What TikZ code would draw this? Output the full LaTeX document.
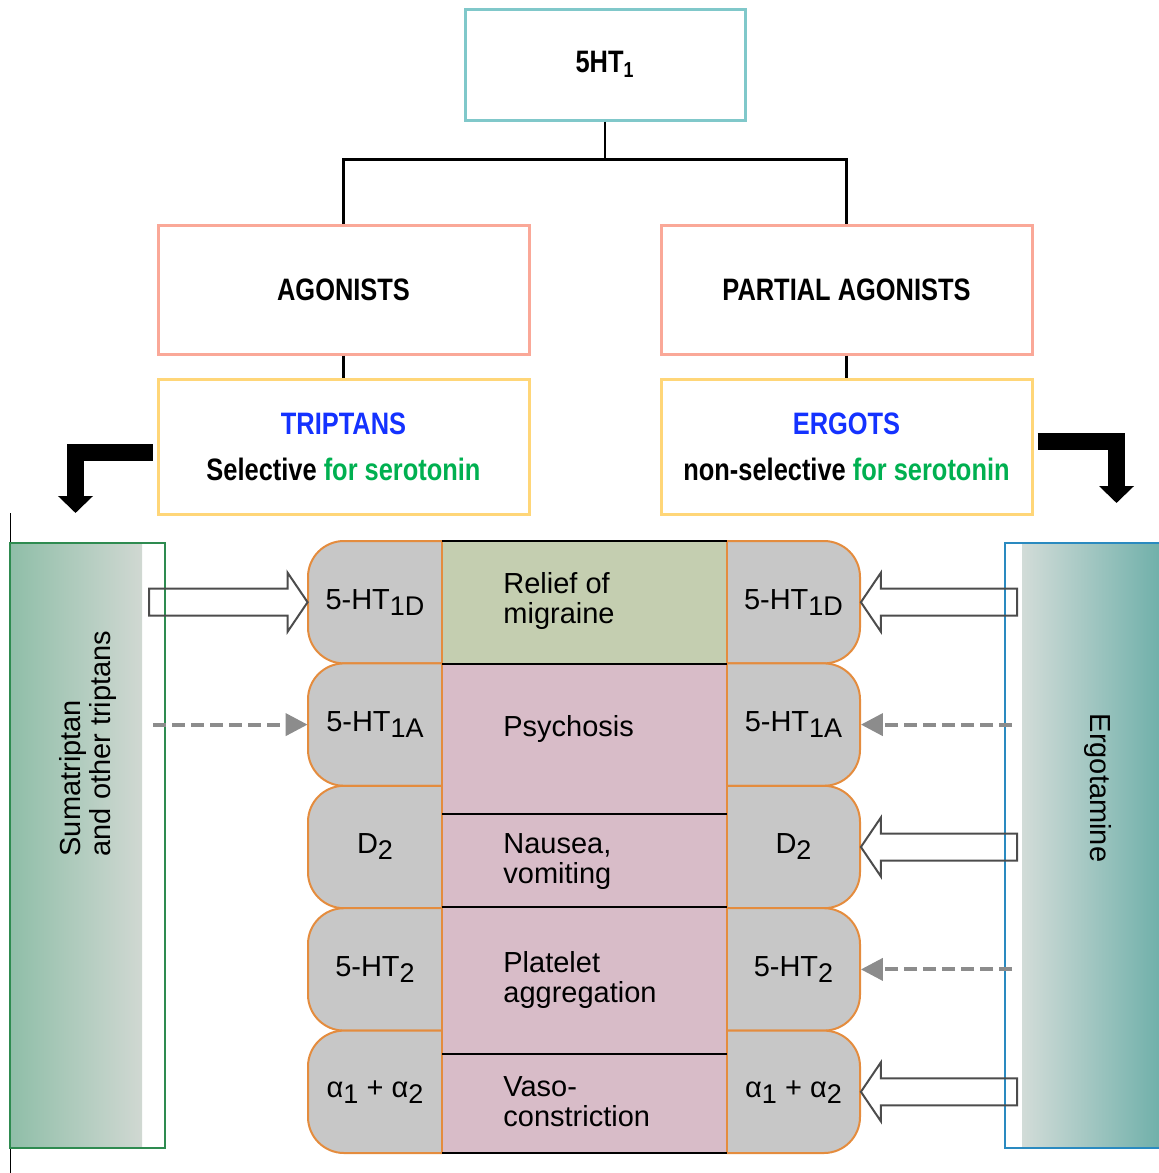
\documentclass[tikz,border=0pt]{standalone}
\usepackage{fontspec}
\setmainfont{Liberation Sans}
\newfontfamily\narrowfont[FakeStretch=0.82]{Liberation Sans}
\usetikzlibrary{calc}
\usetikzlibrary{positioning}
\usetikzlibrary{arrows.meta}

\definecolor{topteal}{RGB}{128,200,202}
\definecolor{salmon}{RGB}{250,168,152}
\definecolor{softyellow}{RGB}{255,214,120}
\definecolor{headblue}{RGB}{20,50,255}
\definecolor{selgreen}{RGB}{0,176,80}
\definecolor{sumagreen}{RGB}{46,139,80}
\definecolor{ergoblue}{RGB}{42,138,192}
\definecolor{sumaleft}{RGB}{143,190,168}
\definecolor{sumaright}{RGB}{208,216,210}
\definecolor{ergoleft}{RGB}{210,220,216}
\definecolor{ergoright}{RGB}{112,176,170}
\definecolor{cellgray}{RGB}{199,199,199}
\definecolor{cellorange}{RGB}{228,140,62}
\definecolor{reliefgreen}{RGB}{196,206,176}
\definecolor{effectpink}{RGB}{216,188,200}
\definecolor{arrowgray}{RGB}{140,140,140}

\newcommand\rsub[1]{\raisebox{-3pt}{\fontsize{13.5}{13.5}\selectfont #1}}
\newcommand\hollowarrow[3]{%
\draw[hollow] let \p1=#1, \p2=#2 in
 (\x1,{\y1+6.75pt}) -- ({\x2-(#3)},{\y1+6.75pt}) -- ({\x2-(#3)},{\y1+14.75pt}) -- (\x2,\y1)
 -- ({\x2-(#3)},{\y1-14.75pt}) -- ({\x2-(#3)},{\y1-6.75pt}) -- (\x1,{\y1-6.75pt}) -- cycle;}

\begin{document}
\begin{tikzpicture}[x=0.5pt,y=-0.5pt,
 headfont/.style={font=\narrowfont\bfseries\fontsize{15.5}{23}\selectfont},
 topbox/.style={draw=topteal,line width=1.5pt,minimum width=140pt,minimum height=55.5pt,headfont},
 classbox/.style={draw=salmon,line width=1.5pt,minimum width=185.5pt,minimum height=64.5pt,headfont},
 drugbox/.style={draw=softyellow,line width=1.5pt,minimum width=185.5pt,minimum height=67.5pt,headfont,align=center},
 tree/.style={line width=1.2pt},
 bentarrow/.style={line width=8.5pt,-{Triangle[length=8.5pt,width=17pt]}},
 cell/.style={fill=cellgray,draw=cellorange,line width=1pt,rounded corners=18pt},
 recep/.style={minimum width=67pt,minimum height=61pt,inner sep=0pt,font=\fontsize{14.5}{15}\selectfont},
 effect/.style={anchor=west,align=left,inner sep=0pt,font=\fontsize{14.5}{15}\selectfont},
 hollow/.style={draw=black!70,line width=1pt},
 dashedarrow/.style={draw=arrowgray,line width=2pt,dash pattern=on 6.5pt off 3pt,-{Triangle[length=11pt,width=11pt]}},
 panelfont/.style={font=\fontsize{14.5}{15}\selectfont}]

\useasboundingbox (0,0) rectangle (1158,1173);

\node[topbox] (top) at (605,64.5) {5HT\textsubscript{1}};
\node[classbox] (agon) at (343.5,289.5) {AGONISTS};
\node[classbox] (pagon) at (846.5,289.5) {PARTIAL AGONISTS};
\node[drugbox,below=11pt of agon] (trip) {\color{headblue}TRIPTANS\\Selective \color{selgreen}for serotonin};
\node[drugbox,below=11pt of pagon] (ergot) {\color{headblue}ERGOTS\\non-selective \color{selgreen}for serotonin};

\coordinate (fork) at ($(top.south)+(0,-19pt)$);
\draw[tree] (top.south) -- (fork) -| (agon.north);
\draw[tree] (fork) -| (pagon.north);
\draw[tree] (agon.south) -- (trip.north);
\draw[tree] (pagon.south) -- (ergot.north);

% drug panels
\draw (10,513) -- (10,1173);
\shade[left color=sumaleft,right color=sumaright] (10,543) rectangle (142,1148);
\node[draw=sumagreen,line width=1pt,minimum width=77.5pt,minimum height=302.5pt] (suma) at (87.5,845.5) {};
\node[rotate=90,align=left,panelfont] (sumalabel) at (88,743.5) {Sumatriptan\\and other triptans};
\shade[left color=ergoleft,right color=ergoright] (1022,543) rectangle (1160,1148);
\node[draw=ergoblue,line width=1pt,minimum width=100pt,minimum height=302.5pt] (ergo) at (1105,845.5) {};
\node[rotate=-90,panelfont] (ergolabel) at (1098,788) {Ergotamine};

\coordinate (lefttip) at (75.5,513);
\coordinate (righttip) at (1116.5,503);
\draw[bentarrow] ([shift={(-2pt,-2.75pt)}]trip.west) -| (lefttip);
\draw[bentarrow] ([shift={(2pt,2.75pt)}]ergot.east) -| (righttip);

% effects column
\fill[effectpink] (442,541) rectangle (727,1153);
\fill[reliefgreen] (442,541) rectangle (727,664);
\foreach \y in {541,663.4,785.8,908.2,1030.6}{
 \filldraw[cell] (442,\y) -- (308,\y) -- (308,{\y+122.4}) -- (442,{\y+122.4});
 \filldraw[cell] (727,\y) -- (860,\y) -- (860,{\y+122.4}) -- (727,{\y+122.4});
}
\draw[cellorange,line width=1pt] (442,541) -- (442,1153) (727,541) -- (727,1153);
\foreach \y in {541,664,814,907,1054,1153}
 \draw[line width=1pt] (442,\y) -- (727,\y);

\foreach \lab [count=\i] in {{5-HT\rsub{1D}},{5-HT\rsub{1A}},{D\rsub{2}},{5-HT\rsub{2}},{α\rsub{1} + α\rsub{2}}}{
 \node[recep] (l\i) at (375,{541+61.2+(\i-1)*122.4}) {\lab};
 \node[recep] (r\i) at (793.5,{541+61.2+(\i-1)*122.4}) {\lab};
}

\node[effect] (m1) at (503,601) {Relief of\\migraine};
\node[effect] (m2) at (503,729) {Psychosis};
\node[effect] (m3) at (503,862) {Nausea,\\vomiting};
\node[effect] (m4) at (503,980) {Platelet\\aggregation};
\node[effect] (m5) at (503,1102) {Vaso-\\constriction};

% drug to receptor
\hollowarrow{([xshift=-8.5pt]suma.east |- l1)}{(l1.west)}{10pt}
\draw[dashedarrow] ([xshift=-6.5pt]suma.east |- l2) -- (l2.west);
\hollowarrow{([xshift=6.5pt]ergo.west |- r1)}{(r1.east)}{-10pt}
\draw[dashedarrow] ([xshift=4pt]ergo.west |- r2) -- (r2.east);
\hollowarrow{([xshift=6.5pt]ergo.west |- r3)}{(r3.east)}{-10pt}
\draw[dashedarrow] ([xshift=4pt]ergo.west |- r4) -- (r4.east);
\hollowarrow{([xshift=6.5pt]ergo.west |- r5)}{(r5.east)}{-10pt}

\end{tikzpicture}
\end{document}
